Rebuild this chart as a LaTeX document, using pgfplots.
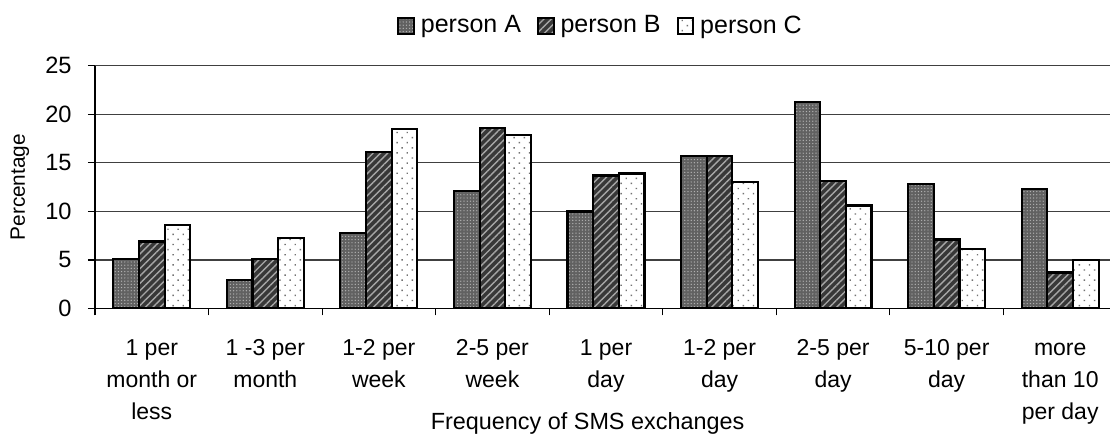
\documentclass[border=0pt]{standalone}
\usepackage{pgfplots}
\pgfplotsset{compat=1.18}
\usepackage{fontspec}
\setmainfont{Liberation Sans}
\usetikzlibrary{patterns.meta}
\newcommand\ls{\rule{0pt}{8.4pt}}
\begin{document}
\begin{tikzpicture}
\begin{axis}[
  at={(0,0)}, anchor=south west,
  scale only axis, width=511pt, height=121.35pt,
  xmin=-0.5, xmax=8.5, ymin=0, ymax=25,
  axis x line*=bottom, axis y line*=left,
  axis line style={black, line width=0.6pt, -},
  ytick={0,5,...,25},
  /pgf/number format/assume math mode=true,
  ymajorgrids, major grid style={black!75, line width=0.6pt},
  tick align=outside,
  major tick length=3.5pt, minor tick length=3.5pt,
  tick style={black, line width=0.6pt},
  xtick={0,...,8},
  minor xtick={-0.5,0.5,...,8.5},
  major x tick style={draw=none},
  xticklabels={{\ls 1 per\\month or\\less},{\ls 1 -3 per\\month},{\ls 1-2 per\\week},{\ls 2-5 per\\week},{\ls 1 per\\day},{\ls 1-2 per\\day},{\ls 2-5 per\\day},{\ls 5-10 per\\day},{\ls more\\than 10\\per day}},
  xticklabel style={font=\fontsize{11.5}{16}\selectfont, align=center, anchor=north, inner sep=0pt, yshift=-11.3pt},
  yticklabel style={font=\fontsize{11.8}{14}\selectfont, anchor=east, inner sep=0pt, xshift=-8pt},
  xlabel={Frequency of SMS exchanges},
  xlabel style={font=\fontsize{11.7}{14}\selectfont, at={(axis description cs:0.482,0)}, anchor=base, yshift=-60.5pt, inner sep=0pt},
  ylabel={Percentage},
  ylabel style={font=\fontsize{10.4}{12}\selectfont, at={(axis description cs:0,0.5)}, anchor=center, yshift=37.5pt, inner sep=0pt},
  ybar, bar width=0.226,
  legend columns=3,
  legend style={draw=none, fill=none, at={(axis description cs:0.4956,1)}, anchor=center, yshift=20pt,
    font=\fontsize{12.5}{14}\selectfont, inner sep=0pt,
    /tikz/every odd column/.append style={column sep=1pt},
    /tikz/every even column/.append style={column sep=6pt}},
  legend image code/.code={\draw[#1, line width=1pt] (0pt,-3.9pt) rectangle (7.8pt,3.9pt);},
  legend cell align=left,
]
\addplot[bar shift=-0.226, draw=black, line width=1.1pt, fill=black!62,
  postaction={pattern={Dots[distance=1.6pt, radius=0.35pt]}, pattern color=black!30}]
  coordinates {(0,5.1) (1,2.9) (2,7.8) (3,12.1) (4,10.0) (5,15.7) (6,21.3) (7,12.8) (8,12.3)};
\addplot[bar shift=0, draw=black, line width=1.1pt, fill=black!78,
  postaction={pattern={Lines[angle=45, distance=2.6pt, line width=0.7pt]}, pattern color=black!35}]
  coordinates {(0,6.9) (1,5.1) (2,16.1) (3,18.6) (4,13.7) (5,15.7) (6,13.1) (7,7.1) (8,3.7)};
\addplot[bar shift=0.226, draw=black, line width=1.1pt, fill=white,
  postaction={pattern={Dots[distance=3.6pt, angle=45, radius=0.5pt]}, pattern color=black!55}]
  coordinates {(0,8.6) (1,7.3) (2,18.5) (3,17.9) (4,13.9) (5,13.0) (6,10.6) (7,6.1) (8,5.0)};
\legend{person A, person B, person C}
\end{axis}
\pgfresetboundingbox
\path[use as bounding box] (-47.5pt,-64.75pt) rectangle (507.5pt,154.25pt);
\end{tikzpicture}
\end{document}
